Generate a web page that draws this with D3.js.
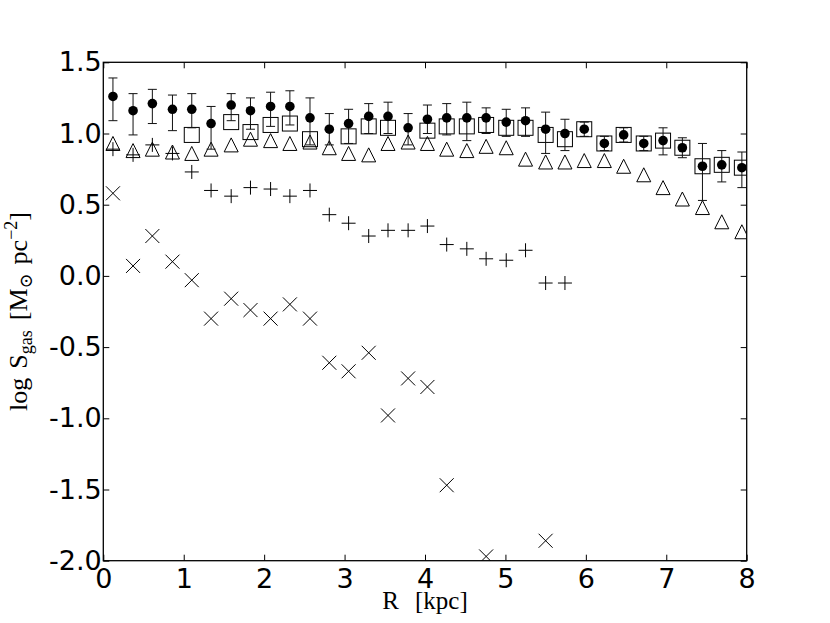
<!DOCTYPE html>
<html>
<head>
<meta charset="utf-8">
<script src="https://cdn.jsdelivr.net/npm/d3@7"></script>
<style>
  body { margin: 0; background: #fff; }
</style>
</head>
<body>
<svg id="svg1" width="830" height="623"></svg>
<script>
// rayons des anneaux (kpc)
var radius = [0.12, 0.37, 0.61, 0.86, 1.10, 1.34, 1.59, 1.83, 2.08, 2.32, 2.57, 2.81, 3.05, 3.30, 3.54, 3.79, 4.03,
              4.27, 4.52, 4.76, 5.01, 5.25, 5.50, 5.74, 5.98, 6.23, 6.47, 6.72, 6.96, 7.20, 7.45, 7.69, 7.94];

// total (ronds noirs) avec barres d'erreur
var total   = [1.26, 1.16, 1.21, 1.17, 1.17, 1.07, 1.20, 1.16, 1.19, 1.19, 1.11, 1.03, 1.07, 1.12, 1.12, 1.04, 1.10,
               1.11, 1.11, 1.11, 1.08, 1.09, 1.03, 1.00, 1.03, 0.93, 0.99, 0.93, 0.95, 0.90, 0.77, 0.78, 0.76];
var totalHi = [1.39, 1.28, 1.31, 1.27, 1.28, 1.19, 1.28, 1.25, 1.29, 1.30, 1.25, 1.14, 1.17, 1.21, 1.22, 1.14, 1.20,
               1.21, 1.22, 1.18, 1.17, 1.18, 1.15, 1.10, 1.08, 0.98, 1.04, 0.98, 1.04, 0.97, 0.93, 0.88, 0.87];
var totalLo = [1.09, 0.99, 1.07, 1.02, 1.04, 0.89, 1.09, 1.03, 1.05, 1.06, 0.92, 0.92, 0.93, 1.00, 1.00, 0.92, 1.00,
               0.99, 0.95, 1.00, 0.98, 0.98, 0.86, 0.88, 0.98, 0.88, 0.94, 0.88, 0.85, 0.83, 0.53, 0.66, 0.62];

// carrés vides
var squares = [null, null, null, null, 0.99, null, 1.08, 1.01, 1.06, 1.07, 0.96, null, 0.98, 1.05, 1.04, null, 1.02,
               1.05, 1.05, 1.06, 1.04, 1.04, 0.99, 0.96, 1.03, 0.93, 0.99, 0.93, 0.95, 0.90, 0.77, 0.78, 0.76];

// triangles
var triangles = [0.93, 0.88, 0.89, 0.87, 0.86, 0.89, 0.92, 0.96, 0.95, 0.93, 0.94, 0.90, 0.86, 0.85, 0.93, 0.94, 0.93,
                 0.89, 0.88, 0.91, 0.90, 0.82, 0.80, 0.80, 0.81, 0.81, 0.77, 0.71, 0.62, 0.54, 0.48, 0.38, 0.31];

// croix droites (+)
var plus = [0.89, 0.85, 0.92, 0.86, 0.73, 0.60, 0.56, 0.62, 0.61, 0.56, 0.60, 0.43, 0.37, 0.28, 0.32, 0.32, 0.35,
            0.22, 0.19, 0.12, 0.11, 0.18, -0.05, -0.05];

// croix (x)
var cross = [0.58, 0.07, 0.28, 0.10, -0.03, -0.30, -0.16, -0.24, -0.30, -0.20, -0.30, -0.61, -0.67, -0.54, -0.98, -0.72, -0.78,
             -1.47, null, -1.97, null, null, -1.86];

var xTicks = [0, 1, 2, 3, 4, 5, 6, 7, 8];
var yTicks = [-2.0, -1.5, -1.0, -0.5, 0.0, 0.5, 1.0, 1.5];

var svg = d3.select("#svg1");
// bords du cadre (px)
var box = {x0: 103.3, x1: 746.7, y0: 62.3, y1: 560.7};

var xScale = d3.scaleLinear().domain([0, 8]).range([box.x0, box.x1]);
var yScale = d3.scaleLinear().domain([-2, 1.5]).range([box.y1, box.y0]);

function pts(values) {
    return values.map((v, i) => ({r: radius[i], v: v})).filter(d => d.v !== null && d.v !== undefined);
}

svg.append("clipPath").attr("id", "clip")
    .append("rect").attr("x", box.x0).attr("y", box.y0).attr("width", box.x1 - box.x0).attr("height", box.y1 - box.y0);

var plot = svg.append("g").attr("clip-path", "url(#clip)");

// triangles
plot.selectAll(".tri").data(pts(triangles)).enter().append("path")
    .attr("transform", d => `translate(${xScale(d.r)},${yScale(d.v)})`)
    .attr("d", "M0,-7L7,7L-7,7Z")
    .attr("fill", "none").attr("stroke", "#000").attr("stroke-width", 1);

// plus
plot.selectAll(".plus").data(pts(plus)).enter().append("path")
    .attr("transform", d => `translate(${xScale(d.r)},${yScale(d.v)})`)
    .attr("d", "M-7,0H7M0,-7V7")
    .attr("fill", "none").attr("stroke", "#000").attr("stroke-width", 1);

// x
plot.selectAll(".cross").data(pts(cross)).enter().append("path")
    .attr("transform", d => `translate(${xScale(d.r)},${yScale(d.v)})`)
    .attr("d", "M-7,-7L7,7M-7,7L7,-7")
    .attr("fill", "none").attr("stroke", "#000").attr("stroke-width", 1);

// carrés
plot.selectAll(".sq").data(pts(squares)).enter().append("rect")
    .attr("x", d => xScale(d.r) - 7.5)
    .attr("y", d => yScale(d.v) - 7.5)
    .attr("width", 15).attr("height", 15)
    .attr("fill", "none").attr("stroke", "#000").attr("stroke-width", 1);

// barres d'erreur
var errData = radius.map((r, i) => ({r: r, lo: totalLo[i], hi: totalHi[i]}));
var err = plot.selectAll(".err").data(errData).enter().append("g")
    .attr("stroke", "#111").attr("stroke-width", 1);
err.append("line")
    .attr("x1", d => xScale(d.r)).attr("x2", d => xScale(d.r))
    .attr("y1", d => yScale(d.lo)).attr("y2", d => yScale(d.hi));
err.append("line")
    .attr("x1", d => xScale(d.r) - 4.5).attr("x2", d => xScale(d.r) + 4.5)
    .attr("y1", d => yScale(d.lo)).attr("y2", d => yScale(d.lo));
err.append("line")
    .attr("x1", d => xScale(d.r) - 4.5).attr("x2", d => xScale(d.r) + 4.5)
    .attr("y1", d => yScale(d.hi)).attr("y2", d => yScale(d.hi));

// ronds
plot.selectAll(".dot").data(pts(total)).enter().append("circle")
    .attr("cx", d => xScale(d.r)).attr("cy", d => yScale(d.v)).attr("r", 4.8)
    .attr("fill", "#000");

// axes
var tickFont = "'DejaVu Sans', sans-serif";
function styleAxis(g) {
    g.select(".domain").remove();
    g.selectAll(".tick line").attr("stroke", "#000");
    g.selectAll(".tick text").attr("font-family", tickFont).attr("font-size", 27).attr("fill", "#000");
}

svg.append("g").attr("transform", `translate(0,${box.y1})`)
    .call(d3.axisBottom(xScale).tickValues(xTicks).tickFormat(d => d).tickSize(-6).tickPadding(8))
    .call(styleAxis);
svg.append("g").attr("transform", `translate(0,${box.y0})`)
    .call(d3.axisTop(xScale).tickValues(xTicks).tickFormat("").tickSize(-6))
    .call(styleAxis);
svg.append("g").attr("transform", `translate(${box.x0},0)`)
    .call(d3.axisLeft(yScale).tickValues(yTicks).tickFormat(d => d.toFixed(1)).tickSize(-6).tickPadding(1.5))
    .call(styleAxis);
svg.append("g").attr("transform", `translate(${box.x1},0)`)
    .call(d3.axisRight(yScale).tickValues(yTicks).tickFormat("").tickSize(-6))
    .call(styleAxis);

// cadre
svg.append("rect")
    .attr("x", box.x0).attr("y", box.y0).attr("width", box.x1 - box.x0).attr("height", box.y1 - box.y0)
    .attr("fill", "none").attr("stroke", "#000").attr("stroke-width", 1.3);

// labels
var serif = "'Liberation Serif', 'DejaVu Serif', serif";
var xl = svg.append("text")
    .attr("x", (box.x0 + box.x1) / 2).attr("y", 609)
    .attr("text-anchor", "middle")
    .attr("font-family", serif).attr("font-size", 25).attr("fill", "#000");
xl.append("tspan").text("R");
xl.append("tspan").attr("dx", 16).text("[kpc]");

var yl = svg.append("text")
    .attr("transform", `translate(27,${(box.y0 + box.y1) / 2}) rotate(-90)`)
    .attr("text-anchor", "middle")
    .attr("font-family", serif).attr("font-size", 26).attr("fill", "#000");
yl.append("tspan").text("log");
yl.append("tspan").attr("dx", 9).text("S");
yl.append("tspan").attr("dy", 5).attr("font-size", 18).text("gas");
yl.append("tspan").attr("dy", -5).attr("dx", 10).text("[M");
yl.append("tspan").attr("dy", 5).attr("font-size", 18).text("\u2299");
yl.append("tspan").attr("dy", -5).attr("dx", 9).text("pc");
yl.append("tspan").attr("dy", -10).attr("font-size", 18).text("\u22122");
yl.append("tspan").attr("dy", 10).text("]");
</script>
</body>
</html>
